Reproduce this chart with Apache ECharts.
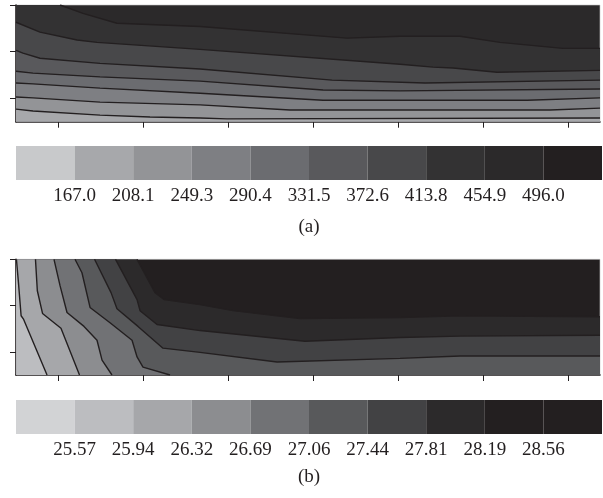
<!DOCTYPE html>
<html><head><meta charset="utf-8">
<script src="https://cdn.jsdelivr.net/npm/echarts@6/dist/echarts.min.js"></script>
<style>html,body{margin:0;padding:0;background:#fff}#c{width:603px;height:498px}</style>
</head><body><div id="c"></div>
<script>
// ---- axis ticks (data units) ----
const xTicks = [5, 15, 25, 35, 45, 55, 65];
const yTicks = [0.5, 1.5, 2.5];
const xMax = 68.7, yMax = 2.5;

// ---- panel (a) contour lines, top to bottom ----
const a_L1 = [[5.18,2.5],[7.88,2.32],[11.88,2.11],[21.65,2.04],[38.94,1.79],[45.18,1.83],[52.24,1.83],[56.94,1.70],[64.35,1.57],[68.7,1.57]];
const a_L2 = [[0,2.13],[2.82,1.92],[7.18,1.75],[9.53,1.70],[21.65,1.55],[45.18,1.23],[49.06,1.17],[51.41,1.15],[56.59,1.06],[68.7,1.10]];
const a_L3 = [[0,1.53],[0.82,1.47],[2.82,1.36],[9.88,1.25],[21.65,1.13],[37.18,0.89],[48.12,0.83],[68.7,0.89]];
const a_L4 = [[0,1.08],[2,1.04],[9.88,0.96],[21.65,0.87],[36.12,0.68],[45.18,0.66],[68.7,0.70]];
const a_L5 = [[0,0.83],[2,0.81],[9.88,0.72],[21.65,0.61],[36.12,0.46],[60.12,0.46],[68.7,0.51]];
const a_L6 = [[0,0.53],[2,0.51],[9.88,0.42],[21.65,0.36],[32.24,0.25],[62.82,0.25],[68.7,0.29]];
const a_L7 = [[0,0.27],[2,0.23],[9.88,0.14],[15.76,0.10],[21.65,0.08],[24.82,0.06],[68.7,0.08]];
const a_lines = [a_L1, a_L2, a_L3, a_L4, a_L5, a_L6, a_L7];

// ---- panel (b) contour lines, dark boundary first ----
const b_L1 = [[14.24,2.5],[16.35,1.78],[17.41,1.63],[21.65,1.52],[25.53,1.39],[33.41,1.22],[45.18,1.24],[52.24,1.28],[68.7,1.26]];
const b_L2 = [[11.71,2.5],[14.24,1.63],[14.59,1.39],[16.59,1.09],[21.65,0.96],[34.0,0.73],[45.18,0.81],[52.24,0.84],[68.7,0.86]];
const b_L3 = [[9.24,2.5],[11.18,1.78],[11.88,1.43],[14.35,1.05],[17.29,0.58],[21.65,0.49],[30.71,0.28],[45.18,0.36],[52.24,0.41],[68.7,0.41]];
const b_L4 = [[6.94,2.5],[7.76,2.21],[8.71,1.46],[11.06,1.13],[13.65,0.75],[14.24,0.39],[14.94,0.17],[18.12,0]];
const b_L5 = [[4.47,2.5],[5.18,1.93],[6.0,1.35],[8.0,1.05],[9.53,0.75],[10.12,0.32],[11.29,0]];
const b_L6 = [[2.29,2.5],[2.51,1.82],[3.12,1.33],[5.29,1.01],[7.47,0]];
const b_L7 = [[0.05,2.5],[0.3,1.97],[0.6,1.28],[0.9,1.2],[3.65,0]];
const b_lines = [b_L1, b_L2, b_L3, b_L4, b_L5, b_L6, b_L7];

// ---- colour bars ----
const a_levels = ['167.0','208.1','249.3','290.4','331.5','372.6','413.8','454.9','496.0'];
const a_colors = ['#c8c9cb','#a7a8ab','#939497','#7e7f83','#6b6c70','#59595c','#48484a','#333233','#2b292a','#231f20'];
const b_levels = ['25.57','25.94','26.32','26.69','27.06','27.44','27.81','28.19','28.56'];
const b_colors = ['#d2d3d5','#bcbdc0','#a6a7aa','#8c8d90','#717275','#58595b','#424244','#2c2a2b','#231f20','#231f20'];

// band colours: background first, then fill below each line
const a_bands = [a_colors[8], a_colors[7], a_colors[6], a_colors[5], a_colors[4], a_colors[3], a_colors[2], a_colors[1]];
const b_bands = [b_colors[8], b_colors[7], b_colors[6], b_colors[5], b_colors[4], b_colors[3], b_colors[2], b_colors[1]];

const FONT = 'Liberation Serif';
const LINE = '#231f20';

function areaPts(pts) {
  const out = pts.slice();
  if (pts[0][1] >= yMax && pts[0][0] > 0) out.unshift([0, yMax]);
  return out;
}

function plotAxes(gi) {
  return {
    x: { gridIndex: gi, type: 'value', min: 0, max: xMax,
      axisLine: { show: true, onZero: false, lineStyle: { color: '#231f20', width: 1.6 } },
      axisTick: { show: true, customValues: xTicks, length: 6, inside: false, lineStyle: { color: '#231f20', width: 1 } },
      axisLabel: { show: false }, splitLine: { show: false } },
    y: { gridIndex: gi, type: 'value', min: 0, max: yMax,
      axisLine: { show: true, onZero: false, lineStyle: { color: '#231f20', width: 1.6 } },
      axisTick: { show: true, customValues: yTicks, length: 6, inside: false, lineStyle: { color: '#231f20', width: 1 } },
      axisLabel: { show: false }, splitLine: { show: false } }
  };
}

function contourSeries(lines, bands, xi, yi) {
  const s = [];
  lines.forEach((pts, i) => {
    s.push({ type: 'line', xAxisIndex: xi, yAxisIndex: yi, data: areaPts(pts), showSymbol: false, silent: true,
      lineStyle: { width: 0 }, areaStyle: { color: bands[i + 1], opacity: 1, origin: 'start' }, z: 2 });
  });
  lines.forEach((pts) => {
    s.push({ type: 'line', xAxisIndex: xi, yAxisIndex: yi, data: pts, showSymbol: false, silent: true,
      lineStyle: { width: 1.4, color: LINE }, z: 3 });
  });
  return s;
}

const pa = plotAxes(0), pb = plotAxes(2);

function cbAxes(gi, levels) {
  return {
    xs: [
      { gridIndex: gi, type: 'category', data: [0,1,2,3,4,5,6,7,8,9], show: false, boundaryGap: true },
      { gridIndex: gi, type: 'value', min: 0, max: 10, position: 'bottom',
        axisLine: { show: false }, axisTick: { show: false }, splitLine: { show: false },
        axisLabel: { show: true, customValues: [1,2,3,4,5,6,7,8,9], margin: 7,
          fontFamily: FONT, fontSize: 19, color: '#231f20',
          formatter: v => levels[Math.round(v) - 1] || '' } }
    ],
    y: { gridIndex: gi, type: 'value', min: 0, max: 1, show: false }
  };
}
const ca = cbAxes(1, a_levels), cb = cbAxes(3, b_levels);

function cbSeries(colors, xi, yi) {
  return { type: 'bar', xAxisIndex: xi, yAxisIndex: yi, barWidth: '100%', barCategoryGap: '0%', silent: true,
    data: colors.map(c => ({ value: 1, itemStyle: { color: c } })) };
}

const option = {
  animation: false,
  backgroundColor: '#fff',
  grid: [
    { left: 16, top: 5, width: 584, height: 116.7, show: true, backgroundColor: a_bands[0], borderColor: '#c8c8c8', borderWidth: 0.6 },
    { left: 16, top: 146, width: 586, height: 34 },
    { left: 16, top: 259.3, width: 584, height: 115.7, show: true, backgroundColor: b_bands[0], borderColor: '#c8c8c8', borderWidth: 0.6 },
    { left: 16, top: 400, width: 586, height: 34 }
  ],
  xAxis: [pa.x, ca.xs[0], ca.xs[1], pb.x, cb.xs[0], cb.xs[1]],
  yAxis: [pa.y, ca.y, pb.y, cb.y],
  series: [].concat(
    contourSeries(a_lines, a_bands, 0, 0),
    [cbSeries(a_colors, 1, 1)],
    contourSeries(b_lines, b_bands, 3, 2),
    [cbSeries(b_colors, 4, 3)]
  ),
  graphic: [
    { type: 'text', x: 309, y: 227, style: { text: '(a)', font: '19px "Liberation Serif"', fill: '#231f20', textAlign: 'center', textVerticalAlign: 'middle' } },
    { type: 'text', x: 309, y: 477, style: { text: '(b)', font: '19px "Liberation Serif"', fill: '#231f20', textAlign: 'center', textVerticalAlign: 'middle' } }
  ]
};
echarts.init(document.getElementById('c'), null, { renderer: 'canvas' }).setOption(option);
</script></body></html>
